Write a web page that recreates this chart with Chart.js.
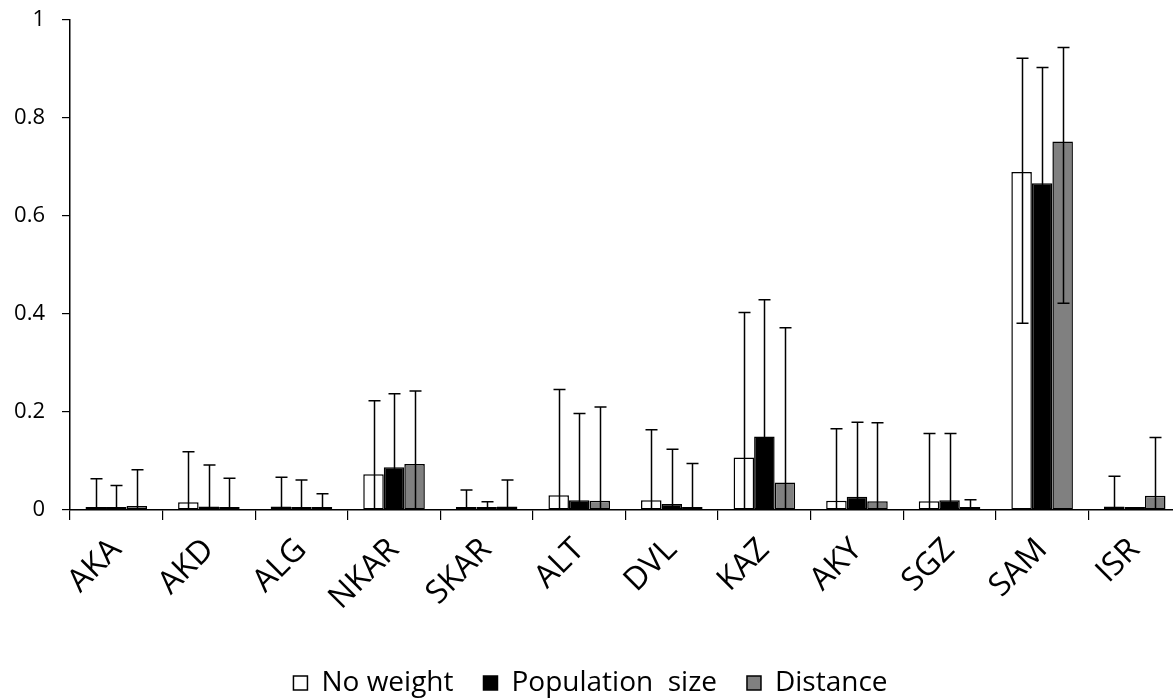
<!DOCTYPE html>
<html>
<head>
<meta charset="utf-8">
<script src="https://cdn.jsdelivr.net/npm/chart.js@4"></script>
<style>
  html, body { margin: 0; padding: 0; background: #fff; overflow: hidden; }
  #wrap { width: 1181px; height: 700px; }
</style>
</head>
<body>
<div id="wrap"><canvas id="chart"></canvas></div>
<script>
// populations
const categories = ["AKA", "AKD", "ALG", "NKAR", "SKAR", "ALT", "DVL", "KAZ", "AKY", "SGZ", "SAM", "ISR"];

// No weight
const noWeight     = [0.005, 0.016, 0.007, 0.073, 0.003, 0.030, 0.020, 0.107, 0.019, 0.018, 0.690, 0.007];
const noWeightHigh = [0.064, 0.119, 0.067, 0.223, 0.041, 0.246, 0.164, 0.403, 0.166, 0.156, 0.922, 0.069];
const noWeightLow  = [0, 0, 0, 0, 0, 0, 0, 0, 0, 0, 0.381, 0];

// Population size
const popSize     = [0.004, 0.007, 0.006, 0.087, 0.001, 0.020, 0.012, 0.150, 0.027, 0.020, 0.667, 0.002];
const popSizeHigh = [0.050, 0.092, 0.061, 0.237, 0.017, 0.197, 0.124, 0.429, 0.179, 0.156, 0.903, 0.002];
const popSizeLow  = [0, 0, 0, 0, 0, 0, 0, 0, 0, 0, 0.43, 0];

// Distance
const distance     = [0.008, 0.005, 0.003, 0.094, 0.007, 0.019, 0.006, 0.056, 0.018, 0.003, 0.752, 0.029];
const distanceHigh = [0.082, 0.065, 0.033, 0.243, 0.061, 0.210, 0.095, 0.372, 0.178, 0.021, 0.944, 0.148];
const distanceLow  = [0, 0, 0, 0, 0, 0, 0, 0, 0, 0, 0.422, 0];

const yTicks = [0, 0.2, 0.4, 0.6, 0.8, 1];

const FONT = "'Open Sans', 'Noto Sans', sans-serif";

// draws the whiskers on top of the bars
const errorBars = {
  id: "errorBars",
  afterDatasetsDraw(chart) {
    const c = chart.ctx;
    const y = chart.scales.y;
    c.save();
    c.strokeStyle = "#000";
    c.lineWidth = 1.5;
    chart.data.datasets.forEach((ds, di) => {
      const meta = chart.getDatasetMeta(di);
      meta.data.forEach((bar, i) => {
        const hi = ds.errHigh[i], lo = ds.errLow[i];
        if (hi - ds.data[i] < 0.002) return;
        const yHi = y.getPixelForValue(hi);
        const yLo = y.getPixelForValue(lo);
        const x = Math.round(bar.x) + 0.5;
        c.beginPath();
        c.moveTo(x, yLo);
        c.lineTo(x, yHi);
        c.moveTo(x - 6, yHi);
        c.lineTo(x + 6, yHi);
        if (lo > 0) {
          c.moveTo(x - 6, yLo);
          c.lineTo(x + 6, yLo);
        }
        c.stroke();
      });
    });
    c.restore();
  }
};

new Chart(document.getElementById("chart"), {
  type: "bar",
  data: {
    labels: categories,
    datasets: [
      { label: "No weight", data: noWeight, errHigh: noWeightHigh, errLow: noWeightLow,
        backgroundColor: "#ffffff", borderColor: "#000", borderWidth: 1.5, borderSkipped: false },
      { label: "Population  size", data: popSize, errHigh: popSizeHigh, errLow: popSizeLow,
        backgroundColor: "#000000", borderColor: "#000", borderWidth: 1.5, borderSkipped: false },
      { label: "Distance", data: distance, errHigh: distanceHigh, errLow: distanceLow,
        backgroundColor: "#808080", borderColor: "#000", borderWidth: 1.5, borderSkipped: false }
    ]
  },
  options: {
    responsive: true,
    maintainAspectRatio: false,
    animation: false,
    datasets: { bar: { categoryPercentage: 0.665, barPercentage: 1.0, minBarLength: 3 } },
    layout: { padding: { top: 20, left: 0, right: 0, bottom: 0 } },
    plugins: {
      legend: {
        position: "bottom",
        maxHeight: 61,
        labels: { boxWidth: 14, boxHeight: 14, padding: 30, color: "#000", font: { family: FONT, size: 28 } }
      },
      tooltip: { enabled: false }
    },
    scales: {
      x: {
        grid: { drawOnChartArea: false, tickLength: 10, color: "#000", lineWidth: 1.2 },
        border: { color: "#000", width: 1.5 },
        ticks: { color: "#000", maxRotation: 45, minRotation: 45, padding: 11, font: { family: FONT, size: 32 } },
        afterFit: s => { s.height = 129; }
      },
      y: {
        min: 0,
        max: 1,
        afterBuildTicks: s => { s.ticks = yTicks.map(v => ({ value: v })); },
        grid: { drawOnChartArea: false, tickLength: 8, color: "#000", lineWidth: 1.2 },
        border: { color: "#000", width: 1.5 },
        ticks: { color: "#000", padding: 17, font: { family: FONT, size: 22 }, callback: v => String(v) },
        afterFit: s => { s.width = 70; s.paddingTop = 0; s.paddingBottom = 0; }
      }
    }
  },
  plugins: [errorBars]
});
</script>
</body>
</html>
